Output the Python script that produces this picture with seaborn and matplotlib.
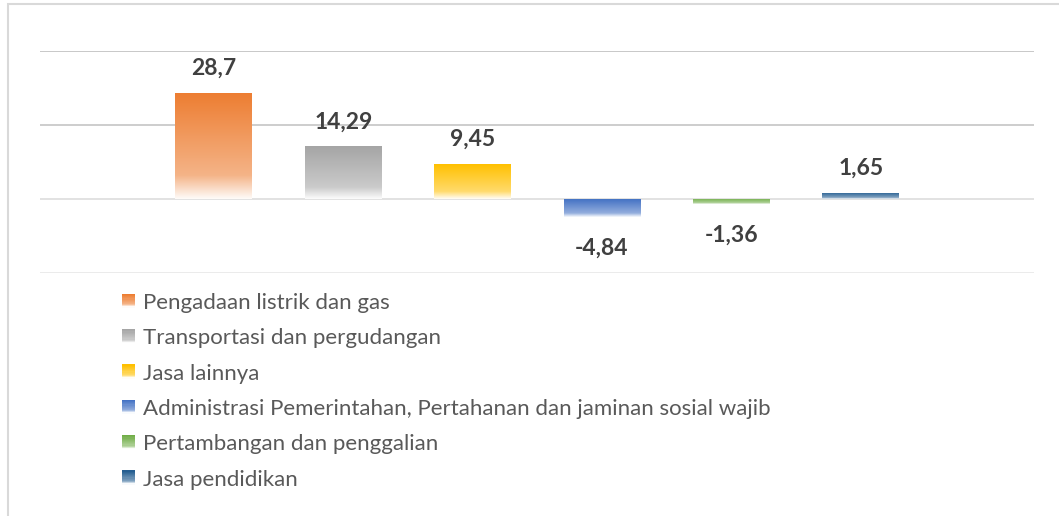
import numpy as np
import pandas as pd
import seaborn as sns
import matplotlib.pyplot as plt
from matplotlib.patches import Rectangle, Patch
from matplotlib.legend_handler import HandlerBase

sectors = ['Pengadaan listrik dan gas',
           'Transportasi dan pergudangan',
           'Jasa lainnya',
           'Administrasi Pemerintahan, Pertahanan dan jaminan sosial wajib',
           'Pertambangan dan penggalian',
           'Jasa pendidikan']
growth = [28.7, 14.29, 9.45, -4.84, -1.36, 1.65]
labels = ['28,7', '14,29', '9,45', '-4,84', '-1,36', '1,65']
colors = ['#ED7D31', '#A5A5A5', '#FFC000', '#4472C4', '#70AD47', '#255E91']

sns.set_style('white')
plt.rcParams['font.family'] = ['Lato', 'DejaVu Sans']


def gradient_rows(color, n=200):
    '''
    excel-like fill: solid at top, getting lighter, then fading to white at the bottom
    '''
    c = np.array(plt.matplotlib.colors.to_rgb(color))
    s = np.linspace(0, 1, n)
    t = np.where(s < 0.78, 0.42 * s / 0.78, 0.42 + 0.55 * (s - 0.78) / 0.22)
    return (1 - t)[:, None] * c + t[:, None] * np.ones(3)


class GradHandler(HandlerBase):
    # legend square drawn as thin stripes so it fades like the bars
    def create_artists(self, legend, orig_handle, xdescent, ydescent,
                       width, height, fontsize, trans):
        n = 12
        rows = gradient_rows(orig_handle.get_facecolor(), n)
        out = []
        for i, rgb in enumerate(rows):
            y = -ydescent + height * (1 - (i + 1) / n)
            out.append(Rectangle((-xdescent, y), width, height / n + 0.3,
                                 facecolor=rgb, edgecolor='none', transform=trans))
        return out


df = pd.DataFrame({'sector': sectors, 'growth': growth})

fig = plt.figure(figsize=(10.59, 5.16), dpi=100)
ax = fig.add_axes([40/1059, 1-273/516, (1034-40)/1059, (273-51)/516])

sns.barplot(data=df, x='sector', y='growth', hue='sector', palette=colors,
            width=0.595, legend=False, ax=ax, saturation=1)

for bar, col, lab, val in zip(ax.patches, colors, labels, growth):
    x0 = bar.get_x()
    x1 = x0 + bar.get_width()
    y0, y1 = sorted([bar.get_y(), bar.get_y() + bar.get_height()])
    bar.set_facecolor('none')
    bar.set_edgecolor('none')
    img = np.repeat(gradient_rows(col)[:, None, :], 2, axis=1)
    im = ax.imshow(img, extent=(x0, x1, y0, y1), origin='upper',
                   aspect='auto', interpolation='bilinear', zorder=2)
    im.set_clip_path(bar)
    cx = (x0 + x1) / 2
    if val >= 0:
        ax.annotate(lab, (cx, val), xytext=(0, 10), textcoords='offset points',
                    ha='center', va='bottom', fontsize=16.5, fontweight='bold', color='#404040')
    else:
        ax.annotate(lab, (cx, val), xytext=(0, -15), textcoords='offset points',
                    ha='center', va='top', fontsize=16.5, fontweight='bold', color='#404040')

for y, c in zip([40, 20, 0, -20], ['#C8C8C8', '#CDCDCD', '#E2E2E2', '#EBEBEB']):
    ax.axhline(y, color=c, lw=1.4, zorder=0)

ax.set_ylim(-20, 40)
ax.set_xlim(-1.345, 6.34)
ax.set_xticks([])
ax.set_yticks([])
ax.set_xlabel('')
ax.set_ylabel('')
sns.despine(ax=ax, left=True, bottom=True)

handles = [Patch(facecolor=c, edgecolor='none') for c in colors]
fig.legend(handles, sectors, loc='upper left', bbox_to_anchor=(122/1059, 1-293/516),
           frameon=False, fontsize=16, handlelength=0.58, handleheight=0.58,
           handletextpad=0.36, labelspacing=0.69, borderpad=0, borderaxespad=0,
           labelcolor='#595959', handler_map={Patch: GradHandler()})

# light chart border like excel
fig.patches.append(Rectangle((8/1059, -0.1), 1.1, 1.1 - 4/516, transform=fig.transFigure,
                             facecolor='none', edgecolor='#D9D9D9', lw=1.5))

fig.savefig('out.png', dpi=100)
